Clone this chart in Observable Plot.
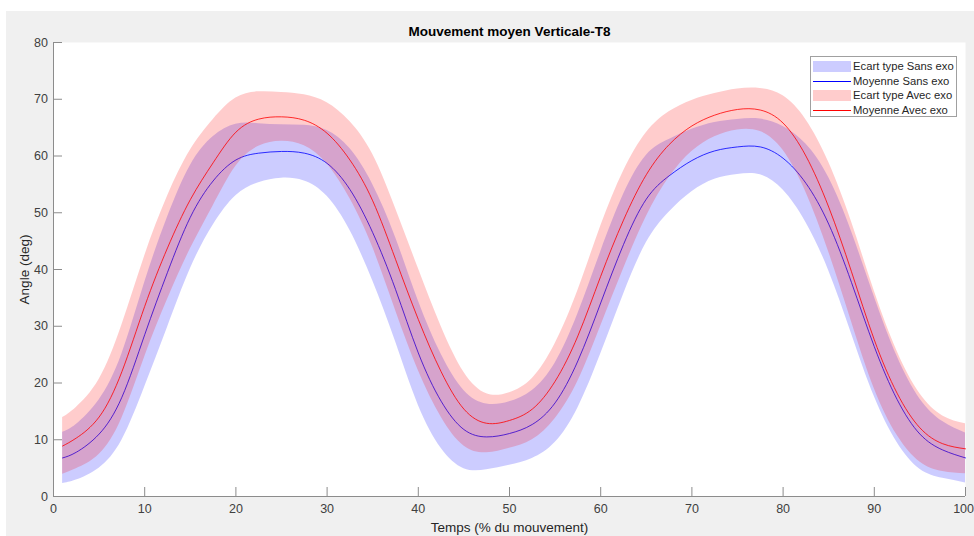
<!DOCTYPE html>
<html>
<head>
<meta charset="utf-8">
<script src="https://cdn.jsdelivr.net/npm/d3@7"></script>
<script src="https://cdn.jsdelivr.net/npm/@observablehq/plot@0.6"></script>
<style>
  html, body { margin: 0; padding: 0; background: #ffffff; }
  #wrap { position: relative; width: 974px; height: 536px; overflow: hidden; font-family: "Liberation Sans", Arial, sans-serif; }
  #fig { position: absolute; left: 6px; top: 11px; right: 0; bottom: 0; background: #f0f0f0; }
  #chart { position: absolute; left: 0; top: 0; }
  #legend { position: absolute; left: 810px; top: 56px; width: 145px; height: 57px; padding-top: 2px;
            border: 1px solid #a0a0a0; background: #ffffff; }
  .row { position: relative; height: 14.6px; }
  .sw { position: absolute; left: 2px; width: 38px; }
  .patch { top: 1.8px; height: 11px; }
  .ln { top: 7px; height: 1px; }
  .lbl { position: absolute; left: 42px; top: 0; line-height: 14.6px; font-size: 11.25px; color: #262626; white-space: nowrap; }
</style>
</head>
<body>
<div id="wrap">
  <div id="fig"></div>
  <div id="chart"></div>
  <div id="legend"></div>
</div>
<script>
// ---- Data ----
const temps = [1, 2.5, 5, 7.5, 10, 12.5, 15, 17.5, 20, 22.5, 25, 27.5, 30, 32.5, 35, 37.5, 40, 42.5, 45, 47.5, 50,
               52.5, 55, 57.5, 60, 62.5, 65, 67.5, 70, 72.5, 75, 77.5, 80, 82.5, 85, 87.5, 90, 92.5, 95, 97.5, 100];

const moyenneSansExo = [6.8, 7.8, 11.0, 17.5, 28.5, 39.5, 49.2, 55.6, 59.3, 60.5, 60.8, 60.5, 58.7, 54.1, 46.5, 36.5, 25.3, 16.8, 11.8, 10.5, 11.1,
                        12.7, 16.5, 23.9, 34.1, 44.4, 52.4, 56.5, 59.2, 60.9, 61.6, 61.6, 59.6, 55.2, 48, 37.7, 26.4, 17.1, 11.0, 8.2, 6.8];
const ecartSansExo   = [4.5, 4.9, 6.0, 7.6, 9.2, 9.7, 9.1, 7.8, 6.3, 5.2, 4.7, 4.9, 5.8, 7.2, 8.5, 9.2, 9.2, 8.3, 6.9, 5.8, 5.6,
                        6.0, 7.0, 8.3, 9.0, 8.8, 7.7, 6.4, 5.5, 5.0, 4.85, 4.9, 5.6, 6.9, 8.2, 9.0, 8.8, 7.6, 6.2, 5.0, 4.4];

const moyenneAvecExo = [8.9, 10.3, 14.0, 22.0, 33.5, 43.8, 52.3, 58.8, 64.2, 66.5, 66.9, 66.3, 64.0, 59.3, 52.1, 41.8, 31.2, 22.0, 15.4, 12.9, 13.4,
                        15.4, 20.3, 28.3, 38.8, 48.7, 56.7, 62.0, 65.3, 67.2, 68.2, 68.1, 65.8, 60.0, 51.0, 39.6, 27.6, 18.2, 12.1, 9.3, 8.4];
const ecartAvecExo   = [5.0, 5.4, 6.6, 8.2, 8.9, 9.1, 8.7, 7.6, 6.0, 4.8, 4.3, 4.5, 5.4, 6.8, 8.2, 9.0, 9.0, 8.0, 6.5, 5.2, 4.9,
                        5.4, 6.6, 8.0, 8.8, 8.6, 7.4, 5.8, 4.5, 3.8, 3.6, 3.8, 4.8, 6.4, 7.9, 8.8, 8.6, 7.4, 6.0, 4.9, 4.4];

const xTicks = [0, 10, 20, 30, 40, 50, 60, 70, 80, 90, 100];
const yTicks = [0, 10, 20, 30, 40, 50, 60, 70, 80];

const titre = "Mouvement moyen Verticale-T8";
const xLabel = "Temps (% du mouvement)";
const yLabel = "Angle (deg)";
const legendItems = [
  {label: "Ecart type Sans exo", kind: "patch", color: "#ccccff"},
  {label: "Moyenne Sans exo",    kind: "line",  color: "#0000ff"},
  {label: "Ecart type Avec exo", kind: "patch", color: "#ffcccc"},
  {label: "Moyenne Avec exo",    kind: "line",  color: "#ff0000"}
];

// ---- Table built from the arrays ----
const rows = temps.map((t, i) => ({
  t,
  sansMean: moyenneSansExo[i], sansStd: ecartSansExo[i],
  avecMean: moyenneAvecExo[i], avecStd: ecartAvecExo[i]
}));

const axisGray = "#8c8c8c";
const textGray = "#404040";
const curve = "natural";
const lastTick = xTicks[xTicks.length - 1];

const chart = Plot.plot({
  width: 974,
  height: 536,
  marginLeft: 53,
  marginRight: 9,
  marginTop: 42,
  marginBottom: 40,
  style: {background: "transparent", fontFamily: "'Liberation Sans', Arial, sans-serif", overflow: "visible"},
  x: {domain: [0, 100]},
  y: {domain: [0, 80]},
  marks: [
    Plot.frame({fill: "white", stroke: "none"}),
    Plot.areaY(rows, {x: "t", y1: d => d.sansMean - d.sansStd, y2: d => d.sansMean + d.sansStd,
                      fill: "#0000ff", fillOpacity: 0.2, curve}),
    Plot.lineY(rows, {x: "t", y: "sansMean", stroke: "#0000ff", strokeWidth: 0.8, curve}),
    Plot.areaY(rows, {x: "t", y1: d => d.avecMean - d.avecStd, y2: d => d.avecMean + d.avecStd,
                      fill: "#ff0000", fillOpacity: 0.2, curve}),
    Plot.lineY(rows, {x: "t", y: "avecMean", stroke: "#ff0000", strokeWidth: 0.8, curve}),
    Plot.ruleX([0], {stroke: axisGray}),
    Plot.ruleY([0], {stroke: axisGray}),
    Plot.axisX(xTicks, {tickSize: -9, tickPadding: 17, stroke: axisGray, text: null, label: null}),
    Plot.axisX(xTicks.filter(t => t !== lastTick), {tickSize: 0, tickPadding: 8, fill: textGray, fontSize: 12.5, label: null}),
    Plot.axisX([lastTick], {tickSize: 0, tickPadding: 8, fill: textGray, fontSize: 12.5, label: null, textAnchor: "end", dx: 8.5}),
    Plot.axisY(yTicks, {tickSize: -9, tickPadding: 14.5, stroke: axisGray, fill: textGray, fontSize: 12.5, label: null}),
    Plot.text([titre], {text: d => d, frameAnchor: "top", lineAnchor: "middle", dy: -11, fontWeight: "bold", fontSize: 13.5, fill: "#000000"}),
    Plot.text([xLabel], {text: d => d, frameAnchor: "bottom", lineAnchor: "middle", dy: 31, fontSize: 13.5, fill: "#262626"}),
    Plot.text([yLabel], {text: d => d, frameAnchor: "left", textAnchor: "middle", lineAnchor: "middle", rotate: -90, dx: -29, fontSize: 13.5, fill: "#262626"})
  ]
});
document.getElementById("chart").appendChild(chart);

// ---- Legend ----
const legend = d3.select("#legend");
legendItems.forEach(item => {
  const row = legend.append("div").attr("class", "row");
  row.append("div").attr("class", "sw " + (item.kind === "patch" ? "patch" : "ln")).style("background", item.color);
  row.append("div").attr("class", "lbl").text(item.label);
});
</script>
</body>
</html>
